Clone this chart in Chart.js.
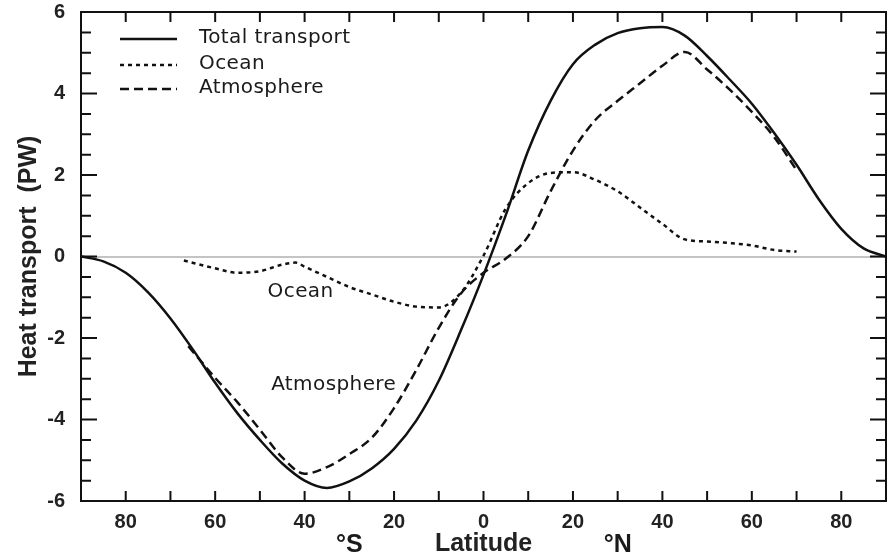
<!DOCTYPE html>
<html>
<head>
<meta charset="utf-8">
<script src="https://cdn.jsdelivr.net/npm/chart.js@4.4.1/dist/chart.umd.min.js"></script>
<style>
  html, body { margin: 0; padding: 0; background: #fff; }
  #wrap { width: 887px; height: 558px; }
</style>
</head>
<body>
<div id="wrap"><canvas id="heatChart"></canvas></div>
<script>
// latitude in degrees, south negative; heat transport in PW
const latTotal = [-90, -85, -80, -75, -70, -65, -60, -55, -50, -45, -40, -35, -30, -25, -20, -15, -10, -5, 0,
                  5, 10, 15, 20, 25, 30, 35, 40, 45, 50, 55, 60, 65, 70, 75, 80, 85, 90];
const totalTransport = [0, -0.12, -0.4, -0.88, -1.52, -2.28, -3.1, -3.85, -4.5, -5.08, -5.5, -5.68, -5.52, -5.2, -4.72, -4.02, -3.05, -1.8, -0.45,
                        1.02, 2.6, 3.82, 4.72, 5.2, 5.48, 5.6, 5.63, 5.42, 4.92, 4.35, 3.75, 3.03, 2.25, 1.4, 0.68, 0.2, 0];

const latAtmos = [-66, -60, -55, -50, -45, -40, -35, -30, -25, -20, -15, -10, -5, 0,
                  5, 10, 15, 20, 25, 30, 35, 40, 45, 50, 55, 60, 65, 70];
const atmosphere = [-2.2, -2.98, -3.58, -4.25, -4.93, -5.33, -5.17, -4.85, -4.45, -3.72, -2.78, -1.75, -0.9, -0.4,
                    -0.05, 0.5, 1.6, 2.6, 3.35, 3.82, 4.25, 4.68, 5.02, 4.59, 4.1, 3.55, 2.93, 2.12];

const latOcean = [-67, -60, -55, -50, -45, -42, -40, -35, -30, -25, -20, -15, -10, -5, 0,
                  5, 10, 15, 20, 25, 30, 35, 40, 45, 50, 55, 60, 65, 70];
const ocean = [-0.1, -0.29, -0.4, -0.36, -0.2, -0.15, -0.25, -0.5, -0.75, -0.93, -1.11, -1.23, -1.25, -0.88, 0.02,
               1.18, 1.8, 2.05, 2.07, 1.88, 1.6, 1.2, 0.8, 0.42, 0.37, 0.33, 0.27, 0.16, 0.12];

const xTickValues = [-80, -60, -40, -20, 0, 20, 40, 60, 80];
const yTickValues = [-6, -4, -2, 0, 2, 4, 6];

const pairs = (xs, ys) => xs.map((v, i) => ({ x: v, y: ys[i] }));

const sansFamily = '"Liberation Sans", Arial, sans-serif';
const lineFont = '20px "DejaVu Sans", sans-serif';
const boldFont = 'bold 25px ' + sansFamily;

// frame, inward ticks, legend and in-plot labels
const decorations = {
    id: 'decorations',
    afterDraw(chart) {
        const { ctx, chartArea: a, scales: { x, y } } = chart;
        ctx.save();
        ctx.strokeStyle = '#111';
        ctx.lineWidth = 2;
        ctx.setLineDash([]);
        ctx.strokeRect(a.left, a.top, a.right - a.left, a.bottom - a.top);

        ctx.beginPath();
        for (let v = -90; v <= 90; v += 10) {
            const px = x.getPixelForValue(v);
            ctx.moveTo(px, a.bottom); ctx.lineTo(px, a.bottom - 10);
            ctx.moveTo(px, a.top); ctx.lineTo(px, a.top + 10);
        }
        for (let v = -6; v <= 6; v += 0.5) {
            const py = y.getPixelForValue(v);
            const len = v % 2 === 0 ? 16 : 10;
            ctx.moveTo(a.left, py); ctx.lineTo(a.left + len, py);
            ctx.moveTo(a.right, py); ctx.lineTo(a.right - len, py);
        }
        ctx.stroke();

        // legend
        const rows = [39, 65, 89];
        ctx.font = lineFont;
        ctx.letterSpacing = '0.4px';
        ctx.fillStyle = '#1a1a1a';
        ctx.textBaseline = 'middle';
        chart.data.datasets.forEach((ds, i) => {
            ctx.beginPath();
            ctx.lineWidth = ds.borderWidth;
            ctx.setLineDash(ds.borderDash || []);
            ctx.moveTo(120, rows[i]);
            ctx.lineTo(177, rows[i]);
            ctx.stroke();
            ctx.fillText(ds.label, 199, rows[i] - 1);
        });
        ctx.setLineDash([]);

        // labels inside the plot
        ctx.textAlign = 'center';
        ctx.fillText('Ocean', x.getPixelForValue(-40.9), y.getPixelForValue(-0.86));
        ctx.fillText('Atmosphere', x.getPixelForValue(-33.5), y.getPixelForValue(-3.14));

        // hemisphere marks beside the axis title
        ctx.letterSpacing = '0px';
        ctx.font = boldFont;
        ctx.fillText('°S', x.getPixelForValue(-30), 545);
        ctx.fillText('°N', x.getPixelForValue(30), 545);
        ctx.restore();
    }
};

new Chart(document.getElementById('heatChart'), {
    type: 'line',
    data: {
        datasets: [{
            label: 'Total transport',
            data: pairs(latTotal, totalTransport),
            borderColor: '#111',
            borderWidth: 2.5,
            borderDash: []
        }, {
            label: 'Ocean',
            data: pairs(latOcean, ocean),
            borderColor: '#111',
            borderWidth: 2.5,
            borderDash: [4, 4]
        }, {
            label: 'Atmosphere',
            data: pairs(latAtmos, atmosphere),
            borderColor: '#111',
            borderWidth: 2.5,
            borderDash: [9, 5]
        }]
    },
    options: {
        responsive: true,
        maintainAspectRatio: false,
        animation: false,
        layout: { padding: { top: 12, right: 1, left: 0, bottom: 0 } },
        elements: {
            point: { radius: 0 },
            line: { cubicInterpolationMode: 'monotone', fill: false }
        },
        plugins: {
            legend: { display: false },
            tooltip: { enabled: false }
        },
        scales: {
            x: {
                type: 'linear',
                min: -90,
                max: 90,
                afterBuildTicks: s => { s.ticks = xTickValues.map(v => ({ value: v })); },
                afterFit: s => { s.height = 57; },
                grid: { display: false, drawTicks: false },
                border: { display: false },
                ticks: {
                    padding: 9,
                    color: '#222',
                    font: { family: sansFamily, size: 20, weight: 'bold' },
                    callback: v => Math.abs(v)
                },
                title: {
                    display: true,
                    text: 'Latitude',
                    color: '#222',
                    padding: { top: 0, bottom: -1 },
                    font: { family: sansFamily, size: 25, weight: 'bold' }
                }
            },
            y: {
                min: -6,
                max: 6,
                afterBuildTicks: s => { s.ticks = yTickValues.map(v => ({ value: v })); },
                afterFit: s => {
                    s.width = 81;
                    s.paddingTop = 0;
                    s.paddingBottom = 0;
                },
                grid: {
                    drawTicks: false,
                    lineWidth: 2,
                    color: c => (c.tick && c.tick.value === 0) ? '#c4c4c4' : 'rgba(0,0,0,0)'
                },
                border: { display: false },
                ticks: {
                    padding: 16,
                    color: '#222',
                    font: { family: sansFamily, size: 20, weight: 'bold' }
                },
                title: {
                    display: true,
                    text: 'Heat transport  (PW)',
                    color: '#222',
                    padding: { top: 14, bottom: 0 },
                    font: { family: sansFamily, size: 25, weight: 'bold' }
                }
            }
        }
    },
    plugins: [decorations]
});
</script>
</body>
</html>
